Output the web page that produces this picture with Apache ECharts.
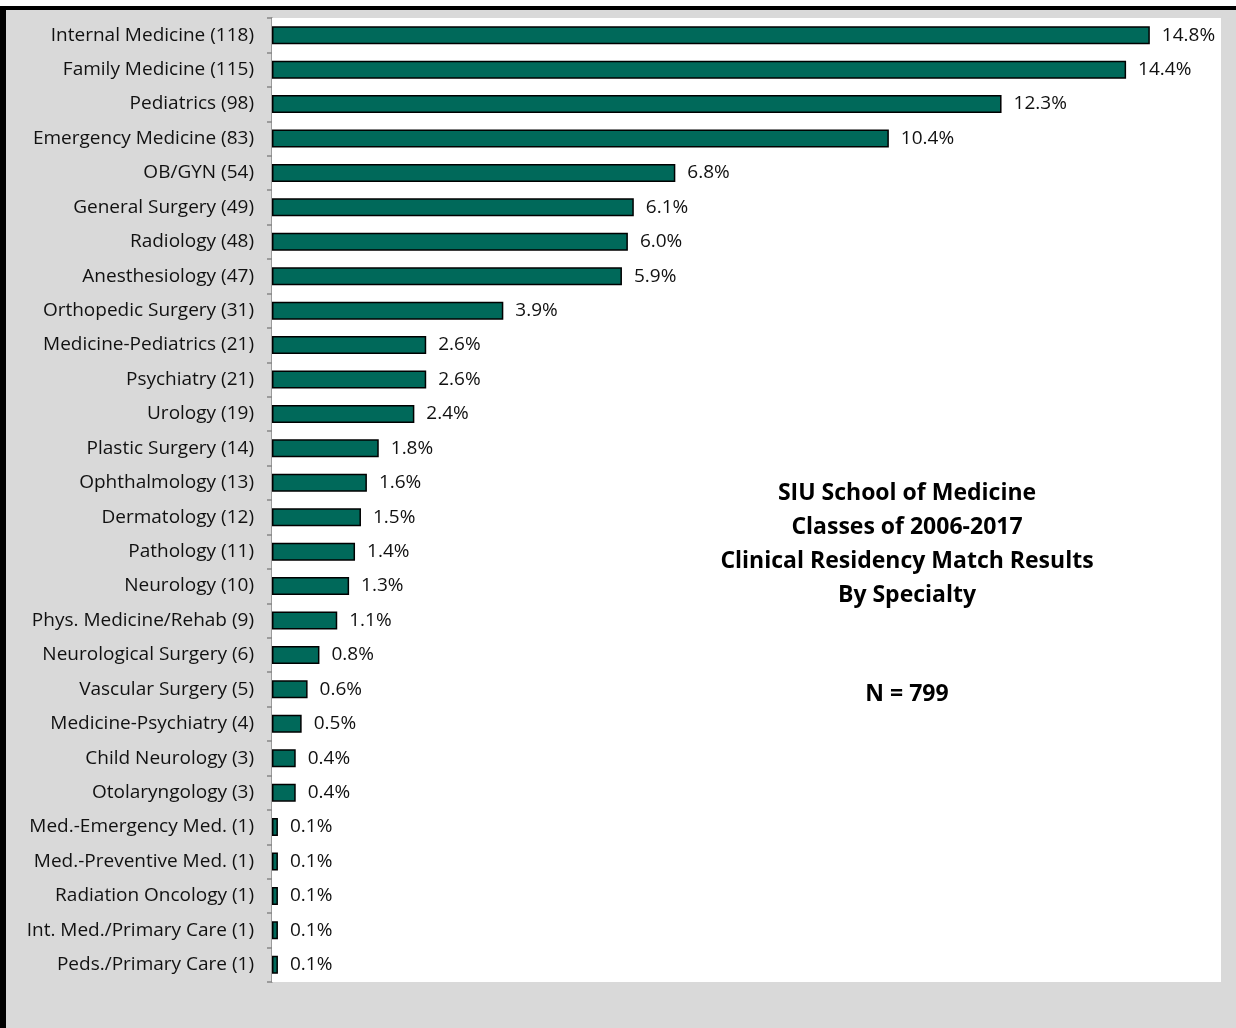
<!DOCTYPE html>
<html>
<head>
<meta charset="utf-8">
<script src="https://cdn.jsdelivr.net/npm/echarts@6/dist/echarts.min.js"></script>
<style>
  html, body { margin: 0; padding: 0; background: #ffffff; }
  #chart { width: 1236px; height: 1028px; }
</style>
</head>
<body>
<div id="chart"></div>
<script>
// 专业名称 + 人数
const specialties = [
  "Internal Medicine (118)",
  "Family Medicine (115)",
  "Pediatrics (98)",
  "Emergency Medicine (83)",
  "OB/GYN (54)",
  "General Surgery (49)",
  "Radiology (48)",
  "Anesthesiology (47)",
  "Orthopedic Surgery (31)",
  "Medicine-Pediatrics (21)",
  "Psychiatry (21)",
  "Urology (19)",
  "Plastic Surgery (14)",
  "Ophthalmology (13)",
  "Dermatology (12)",
  "Pathology (11)",
  "Neurology (10)",
  "Phys. Medicine/Rehab (9)",
  "Neurological Surgery (6)",
  "Vascular Surgery (5)",
  "Medicine-Psychiatry (4)",
  "Child Neurology (3)",
  "Otolaryngology (3)",
  "Med.-Emergency Med. (1)",
  "Med.-Preventive Med. (1)",
  "Radiation Oncology (1)",
  "Int. Med./Primary Care (1)",
  "Peds./Primary Care (1)",
];
// 百分比（标签读数）
const shares = [
  14.8, 14.4, 12.3, 10.4, 6.8, 6.1, 6.0, 5.9, 3.9, 2.6, 2.6, 2.4, 1.8, 1.6,
  1.5, 1.4, 1.3, 1.1, 0.8, 0.6, 0.5, 0.4, 0.4, 0.1, 0.1, 0.1, 0.1, 0.1,
];
const titleLines = [
  "SIU School of Medicine",
  "Classes of 2006-2017",
  "Clinical Residency Match Results",
  "By Specialty",
];
const totalText = "N = 799";

const FONT = "Open Sans";

let myChart = echarts.init(document.getElementById("chart"), null, {
  renderer: "canvas",
});

let option = {
  backgroundColor: "#ffffff",
  animation: false,
  grid: {
    left: 272,
    top: 18,
    right: 15,
    bottom: 46,
    show: true,
    backgroundColor: "#ffffff",
    borderWidth: 0,
    z: 1,
  },
  xAxis: {
    type: "value",
    min: 0,
    max: 16,
    show: false,
  },
  yAxis: {
    type: "category",
    inverse: true,
    data: specialties,
    axisLine: { show: true, lineStyle: { color: "#868686", width: 1.5 } },
    axisTick: {
      show: true,
      length: 5,
      lineStyle: { color: "#868686", width: 1.5 },
    },
    axisLabel: {
      margin: 18,
      fontFamily: FONT,
      fontSize: 19,
      color: "#111111",
      padding: [4, 0, 0, 0], // 文字略往下
    },
  },
  series: [
    {
      type: "bar",
      data: shares,
      barWidth: 18,
      itemStyle: {
        color: "#00695a",
        borderColor: "#000000",
        borderWidth: 1.5,
      },
      label: {
        show: true,
        position: "right",
        distance: 12,
        fontFamily: FONT,
        fontSize: 19,
        color: "#111111",
        padding: [4, 0, 0, 0],
        formatter: (p) => p.value.toFixed(1) + "%",
      },
      z: 3,
    },
  ],
  graphic: [
    // 灰色背景 + 黑色边框
    {
      type: "rect",
      z: -10,
      shape: { x: 6, y: 10, width: 1230, height: 1018 },
      style: { fill: "#d9d9d9" },
    },
    {
      type: "rect",
      z: -9,
      shape: { x: 0, y: 6, width: 1236, height: 4 },
      style: { fill: "#000000" },
    },
    {
      type: "rect",
      z: -9,
      shape: { x: 0, y: 6, width: 6, height: 1022 },
      style: { fill: "#000000" },
    },
    {
      type: "text",
      z: 10,
      x: 907,
      y: 476,
      style: {
        text: titleLines.join("\n"),
        textAlign: "center",
        fontFamily: FONT,
        fontWeight: "bold",
        fontSize: 23,
        lineHeight: 34,
        fill: "#000000",
      },
    },
    {
      type: "text",
      z: 10,
      x: 907,
      y: 677,
      style: {
        text: totalText,
        textAlign: "center",
        fontFamily: FONT,
        fontWeight: "bold",
        fontSize: 23,
        lineHeight: 34,
        fill: "#000000",
      },
    },
  ],
};

option && myChart.setOption(option);
</script>
</body>
</html>
